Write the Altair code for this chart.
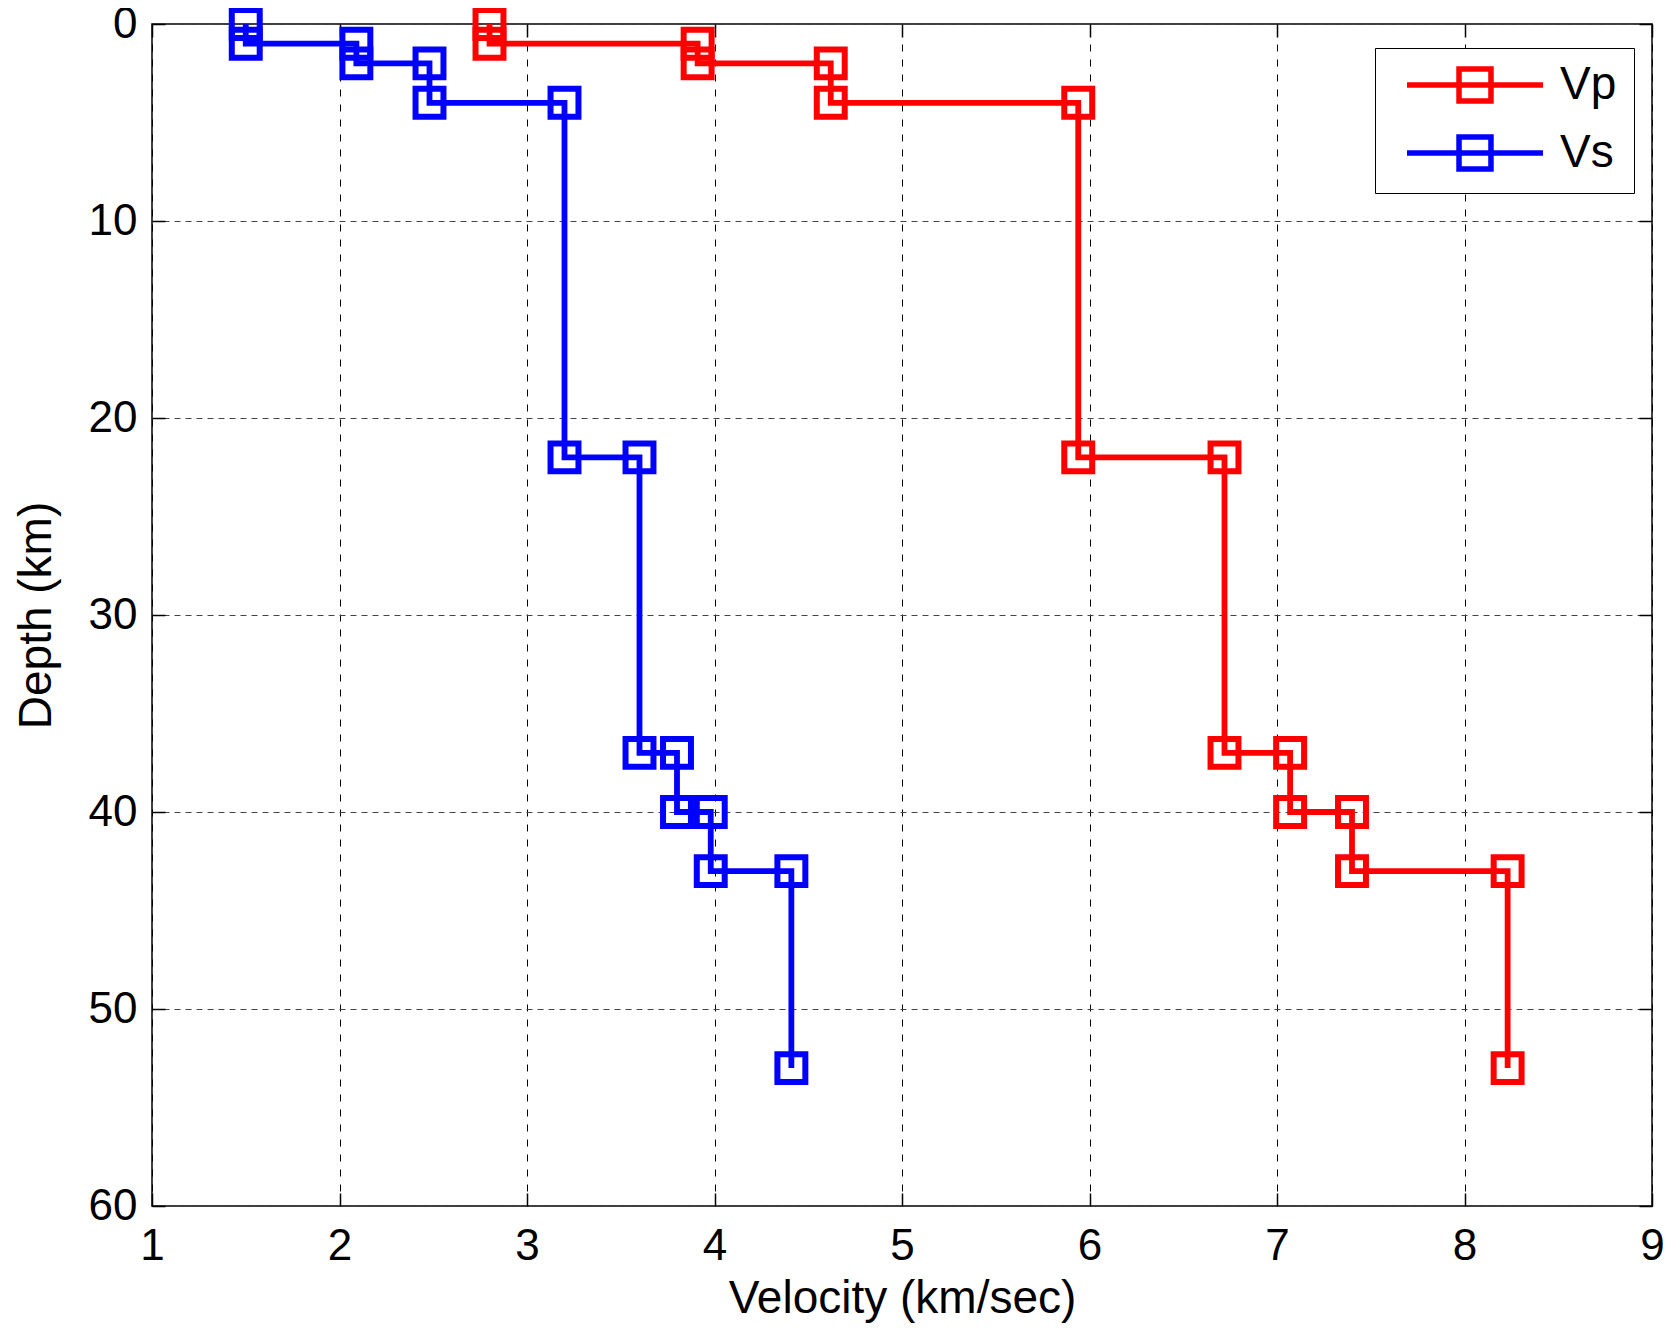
import altair as alt
import pandas as pd

# ---- data ----
series = ["Vp", "Vs"]
depth_top = [0, 1, 2, 4, 22, 37, 40, 43]
depth_bottom = [1, 2, 4, 22, 37, 40, 43, 53]
vp = [2.80, 3.91, 4.62, 5.94, 6.72, 7.07, 7.40, 8.23]
vs = [1.50, 2.09, 2.48, 3.20, 3.60, 3.80, 3.98, 4.41]
x_ticks = [1, 2, 3, 4, 5, 6, 7, 8, 9]
y_ticks = [0, 10, 20, 30, 40, 50, 60]
colors = ["#ff0000", "#0000ff"]

rows = []
for name, vals in zip(series, [vp, vs]):
    k = 0
    for v, t, b in zip(vals, depth_top, depth_bottom):
        rows.append({"series": name, "velocity": v, "depth": t, "idx": k})
        k += 1
        rows.append({"series": name, "velocity": v, "depth": b, "idx": k})
        k += 1
df = pd.DataFrame(rows)

W, H = 1500, 1182
FONT = "Liberation Sans"

xscale = alt.Scale(domain=[1, 9], nice=False, zero=False)
yscale = alt.Scale(domain=[0, 60], reverse=True, nice=False, zero=False)

LEG_PATH = "M-1,0 L1,0 M-0.235,-0.235 L0.235,-0.235 L0.235,0.235 L-0.235,0.235 Z"

color = alt.Color(
    "series:N",
    scale=alt.Scale(domain=series, range=colors),
    legend=alt.Legend(
        title=None,
        orient="none",
        legendX=1223,
        legendY=24,
        symbolType=LEG_PATH,
        symbolSize=18496,
        symbolStrokeWidth=5.5,
        symbolFillColor="transparent",
        clipHeight=40,
        rowPadding=22,
        padding=17,
        symbolOffset=12,
        labelOffset=14,
        labelFontSize=46,
        labelFont=FONT,
        labelColor="black",
        strokeColor="black",
        fillColor="white",
        cornerRadius=0,
    ),
)

base = alt.Chart(df)

lines = base.mark_line(strokeWidth=5.8).encode(
    x=alt.X(
        "velocity:Q",
        scale=xscale,
        axis=alt.Axis(
            orient="bottom", values=x_ticks, format="d", labelFlush=False,
            labelFontSize=44, labelPadding=18, labelColor="black", labelFont=FONT,
            ticks=False, domain=False,
            grid=True, gridDash=[7, 8], gridColor="black", gridWidth=1,
            title="Velocity (km/sec)", titleFontSize=46, titleFontWeight="normal",
            titleColor="black", titleFont=FONT, titlePadding=8,
        ),
    ),
    y=alt.Y(
        "depth:Q",
        scale=yscale,
        axis=alt.Axis(
            orient="left", values=y_ticks, format="d", labelFlush=False,
            labelFontSize=44, labelPadding=15, labelColor="black", labelFont=FONT,
            ticks=False, domain=False,
            grid=True, gridDash=[6, 5], gridColor="#444444", gridWidth=1,
            title="Depth (km)", titleFontSize=46, titleFontWeight="normal",
            titleColor="black", titleFont=FONT, titlePadding=28,
        ),
    ),
    color=color,
    order=alt.Order("idx:Q"),
)

points = base.mark_point(shape="square", filled=False, size=780, strokeWidth=6, opacity=1).encode(
    x=alt.X(
        "velocity:Q", scale=xscale,
        axis=alt.Axis(orient="top", offset=-H, values=x_ticks, labels=False, domain=False,
                      grid=False, ticks=True, tickSize=13, tickColor="black", tickWidth=1.5,
                      title=None),
    ),
    y=alt.Y(
        "depth:Q", scale=yscale,
        axis=alt.Axis(orient="right", offset=-W, values=y_ticks, labels=False, domain=False,
                      grid=False, ticks=True, tickSize=13, tickColor="black", tickWidth=1.5,
                      title=None),
    ),
    color=color,
)

ghost = base.mark_point(opacity=0).encode(
    x=alt.X(
        "velocity:Q", scale=xscale,
        axis=alt.Axis(orient="bottom", offset=-H, values=x_ticks, labels=False, domain=False,
                      grid=False, ticks=True, tickSize=13, tickColor="black", tickWidth=1.5,
                      title=None),
    ),
    y=alt.Y(
        "depth:Q", scale=yscale,
        axis=alt.Axis(orient="left", offset=-W, values=y_ticks, labels=False, domain=False,
                      grid=False, ticks=True, tickSize=13, tickColor="black", tickWidth=1.5,
                      title=None),
    ),
)

chart = (
    alt.layer(lines, points, ghost)
    .resolve_axis(x="independent", y="independent")
    .properties(
        width=W,
        height=H,
        padding={"left": 144, "top": 16, "right": 16, "bottom": 117},
        autosize=alt.AutoSizeParams(type="none"),
        background="white",
    )
    .configure_view(stroke="black", strokeWidth=1.5)
)

chart.save("out.html", embed_options={"renderer": "svg", "actions": False})
